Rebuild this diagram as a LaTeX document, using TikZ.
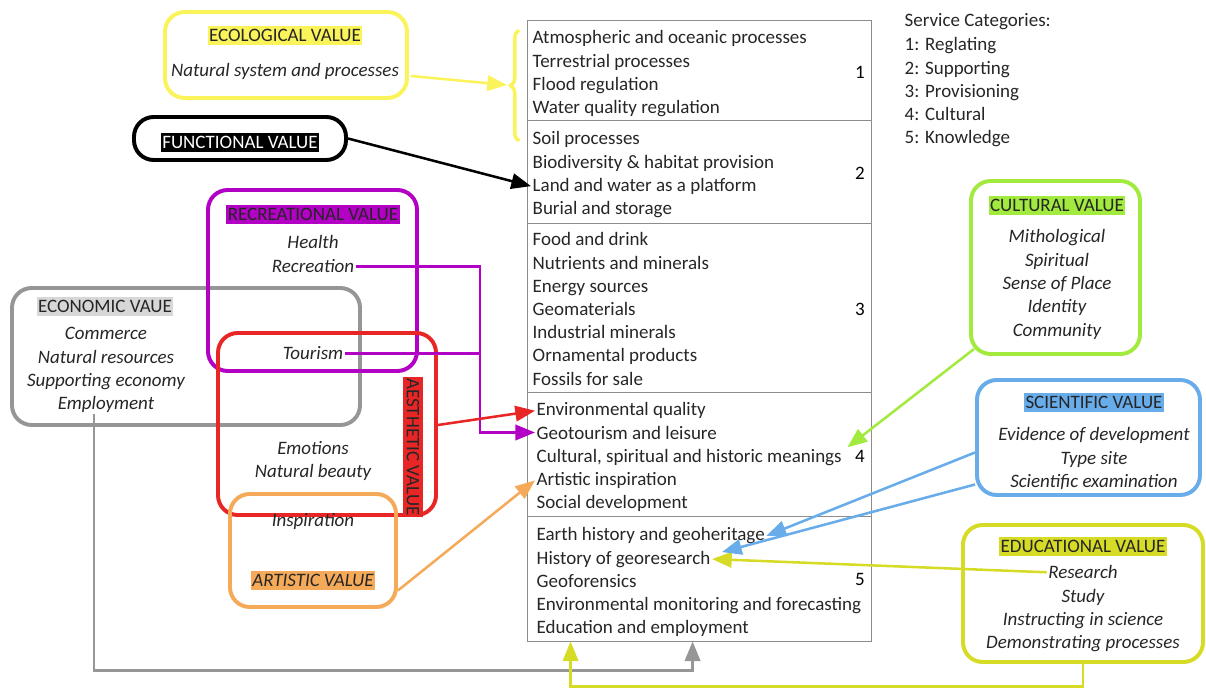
\documentclass[tikz,border=0pt]{standalone}
\usepackage{fontspec}
\setmainfont{Carlito}
\usetikzlibrary{arrows.meta,positioning,fit,calc,decorations.pathreplacing}

\definecolor{ecoyellow}{RGB}{250,244,90}
\definecolor{recpurple}{RGB}{178,0,196}
\definecolor{econgray}{RGB}{150,150,150}
\definecolor{econlight}{RGB}{215,215,215}
\definecolor{aestred}{RGB}{232,38,38}
\definecolor{artorange}{RGB}{245,170,90}
\definecolor{cultgreen}{RGB}{162,234,62}
\definecolor{sciblue}{RGB}{104,172,234}
\definecolor{eduyellow}{RGB}{214,220,38}
\definecolor{tabgray}{RGB}{140,140,140}

\begin{document}
\begin{tikzpicture}
		[x=0.025cm,y=-0.025cm,
		font=\fontsize{13.5}{16.5}\selectfont,
		value box/.style={draw,line width=2.8pt,rounded corners=14pt,inner sep=0pt},
		row box/.style={draw=tabgray,line width=0.6pt,inner sep=0pt},
		item/.style={anchor=base west,inner sep=1pt,text=black!85,yshift=-2pt},
		val item/.style={anchor=base,inner sep=1pt,text=black!85,yshift=-2pt,font=\fontsize{13.5}{16.5}\selectfont\itshape},
		title/.style={anchor=base,inner xsep=1pt,inner ysep=2.5pt,text=black!85,yshift=-2pt},
		side title/.style={anchor=center,inner xsep=1pt,inner ysep=2.5pt,text=black!85,rotate=-90},
		link/.style={line width=1.8pt,-{Triangle[length=14pt,width=11pt]}}
		]
		
		\useasboundingbox (0,0) rectangle (1206,688);
		
		% service table
		\node [row box,fit={(527,20) (871,120)}] (row1) {};
		\node [row box,fit={(527,120) (871,223)}] (row2) {};
		\node [row box,fit={(527,223) (871,392)}] (row3) {};
		\node [row box,fit={(527,392) (871,516)}] (row4) {};
		\node [row box,fit={(527,516) (871,641)}] (row5) {};
		
		\foreach \t [count=\i] in {Atmospheric and oceanic processes, Terrestrial processes, Flood regulation, Water quality regulation}
		\node [item] (s1-\i) at (531,{41+23.2*(\i-1)}) {\t};
		\foreach \t [count=\i] in {Soil processes, Biodiversity \& habitat provision, Land and water as a platform, Burial and storage}
		\node [item] (s2-\i) at (531,{142+23.2*(\i-1)}) {\t};
		\foreach \t [count=\i] in {Food and drink, Nutrients and minerals, Energy sources, Geomaterials, Industrial minerals, Ornamental products, Fossils for sale}
		\node [item] (s3-\i) at (531,{243+23.2*(\i-1)}) {\t};
		\foreach \t [count=\i] in {Environmental quality, Geotourism and leisure, {Cultural, spiritual and historic meanings}, Artistic inspiration, Social development}
		\node [item] (s4-\i) at (535,{413+23.2*(\i-1)}) {\t};
		\foreach \t [count=\i] in {Earth history and geoheritage, History of georesearch, Geoforensics, Environmental monitoring and forecasting, Education and employment}
		\node [item] (s5-\i) at (535,{538+23.2*(\i-1)}) {\t};
		
		\node [anchor=base,yshift=-2pt] (n1) at (860,76) {1};
		\node [anchor=base,yshift=-2pt] (n2) at (860,177) {2};
		\node [anchor=base,yshift=-2pt] (n3) at (860,313) {3};
		\node [anchor=base,yshift=-2pt] (n4) at (860,460) {4};
		\node [anchor=base,yshift=-2pt] (n5) at (860,583) {5};
		
		% categories
		\node [item] (cat-0) at (903,24) {Service Categories:};
		\foreach \t [count=\i] in {1: Reglating, 2: Supporting, 3: Provisioning, 4: Cultural, 5: Knowledge}
		\node [item] (cat-\i) at (903,{48+23.25*(\i-1)}) {\t};
		
		% value boxes
		\node [value box,draw=ecoyellow,fit={(165,12) (407,98)}] (eco) {};
		\node [title,fill=ecoyellow] (eco-t) at (285,39) {ECOLOGICAL VALUE};
		\node [val item] (eco-1) at (285,74) {Natural system and processes};
		
		\node [value box,draw=black,fit={(134,117) (346,160)}] (func) {};
		\node [title,fill=black,text=white] (func-t) at (240,146) {FUNCTIONAL VALUE};
		
		\node [value box,draw=econgray,fit={(12,288) (360,425)}] (econ) {};
		\node [title,fill=econlight] (econ-t) at (105,310) {ECONOMIC VAUE};
		\foreach \t [count=\i] in {Commerce, Natural resources, Supporting economy, Employment}
		\node [val item] (econ-\i) at (106,{337+23.3*(\i-1)}) {\t};
		
		\node [value box,draw=recpurple,fit={(208,190) (417,371)}] (recr) {};
		\node [title,fill=recpurple] (recr-t) at (313,218) {RECREATIONAL VALUE};
		\node [val item] (recr-1) at (313,246) {Health};
		\node [val item] (recr-2) at (313,270) {Recreation};
		\node [val item] (recr-3) at (313,357) {Tourism};
		
		\node [value box,draw=aestred,fit={(218,333) (436,515)}] (aest) {};
		\node [side title,fill=aestred] (aest-t) at (413,447) {AESTHETIC VALUE};
		\node [val item] (aest-1) at (313,452) {Emotions};
		\node [val item] (aest-2) at (313,475) {Natural beauty};
		
		\node [value box,draw=artorange,fit={(230,494) (396,607)}] (art) {};
		\node [val item] (art-1) at (313,524) {Inspiration};
		\node [title,fill=artorange,font=\fontsize{13.5}{16.5}\selectfont\itshape] (art-t) at (313,584) {ARTISTIC VALUE};
		
		\node [value box,draw=cultgreen,fit={(971,181) (1140,354)}] (cult) {};
		\node [title,fill=cultgreen] (cult-t) at (1057,209) {CULTURAL VALUE};
		\foreach \t [count=\i] in {Mithological, Spiritual, Sense of Place, Identity, Community}
		\node [val item] (cult-\i) at (1057,{240+23.3*(\i-1)}) {\t};
		
		\node [value box,draw=sciblue,fit={(977,380) (1200,495)}] (sci) {};
		\node [title,fill=sciblue] (sci-t) at (1094,406) {SCIENTIFIC VALUE};
		\foreach \t [count=\i] in {Evidence of development, Type site, Scientific examination}
		\node [val item] (sci-\i) at (1094,{438+23.2*(\i-1)}) {\t};
		
		\node [value box,draw=eduyellow,fit={(963,525) (1203,662)}] (edu) {};
		\node [title,fill=eduyellow] (edu-t) at (1083,550) {EDUCATIONAL VALUE};
		\foreach \t [count=\i] in {Research, Study, Instructing in science, Demonstrating processes}
		\node [val item] (edu-\i) at (1083,{576+23.3*(\i-1)}) {\t};
		
		% connectors
		\draw [ecoyellow,line width=2.5pt,decorate,decoration={brace,amplitude=6pt}] (519,141) -- (519,30);
		\coordinate (eco-end) at (507,85);
		\coordinate (recbend) at (480,0);
		\coordinate (econ-end) at ($(row5.south west)+(166,0)$);
		\coordinate (edu-end) at ($(row5.south west)+(44,0)$);
		
		\draw [link,ecoyellow] ($(eco.east)+(2,21)$) -- (eco-end);
		\draw [link,black] (func.east) -- (s2-3.west);
		\draw [link,recpurple] (recr-2.east) -| (recbend |- s4-2.west) -- (s4-2.west);
		\draw [line width=1.8pt,recpurple] (recr-3.east) -- (recr-3.east -| recbend);
		\draw [link,aestred] ($(aest.east)+(0,1)$) -- (s4-1.west);
		\draw [link,artorange] ($(art.east)+(0,40)$) -- (s4-4.west);
		\draw [link,econgray] ([xshift=-8.5pt]econ-4.south) |- ($(econ-end)+(0,29)$) -- (econ-end);
		\draw [link,cultgreen] ($(cult.south west)+(5,-7)$) -- ($(s4-3.north east)+(4,0)$);
		\draw [link,eduyellow] (edu-1.west) -- (s5-2.east);
		\draw [link,eduyellow] (edu.south) |- ($(edu-end)+(0,45)$) -- (edu-end);
		\draw [link,sciblue] ($(sci.west)+(0,15)$) -- (s5-1.east);
		\draw [link,sciblue] ($(sci.west)+(0,47)$) -- ($(s5-2.east)+(10,-7)$);
		
\end{tikzpicture}
\end{document}
